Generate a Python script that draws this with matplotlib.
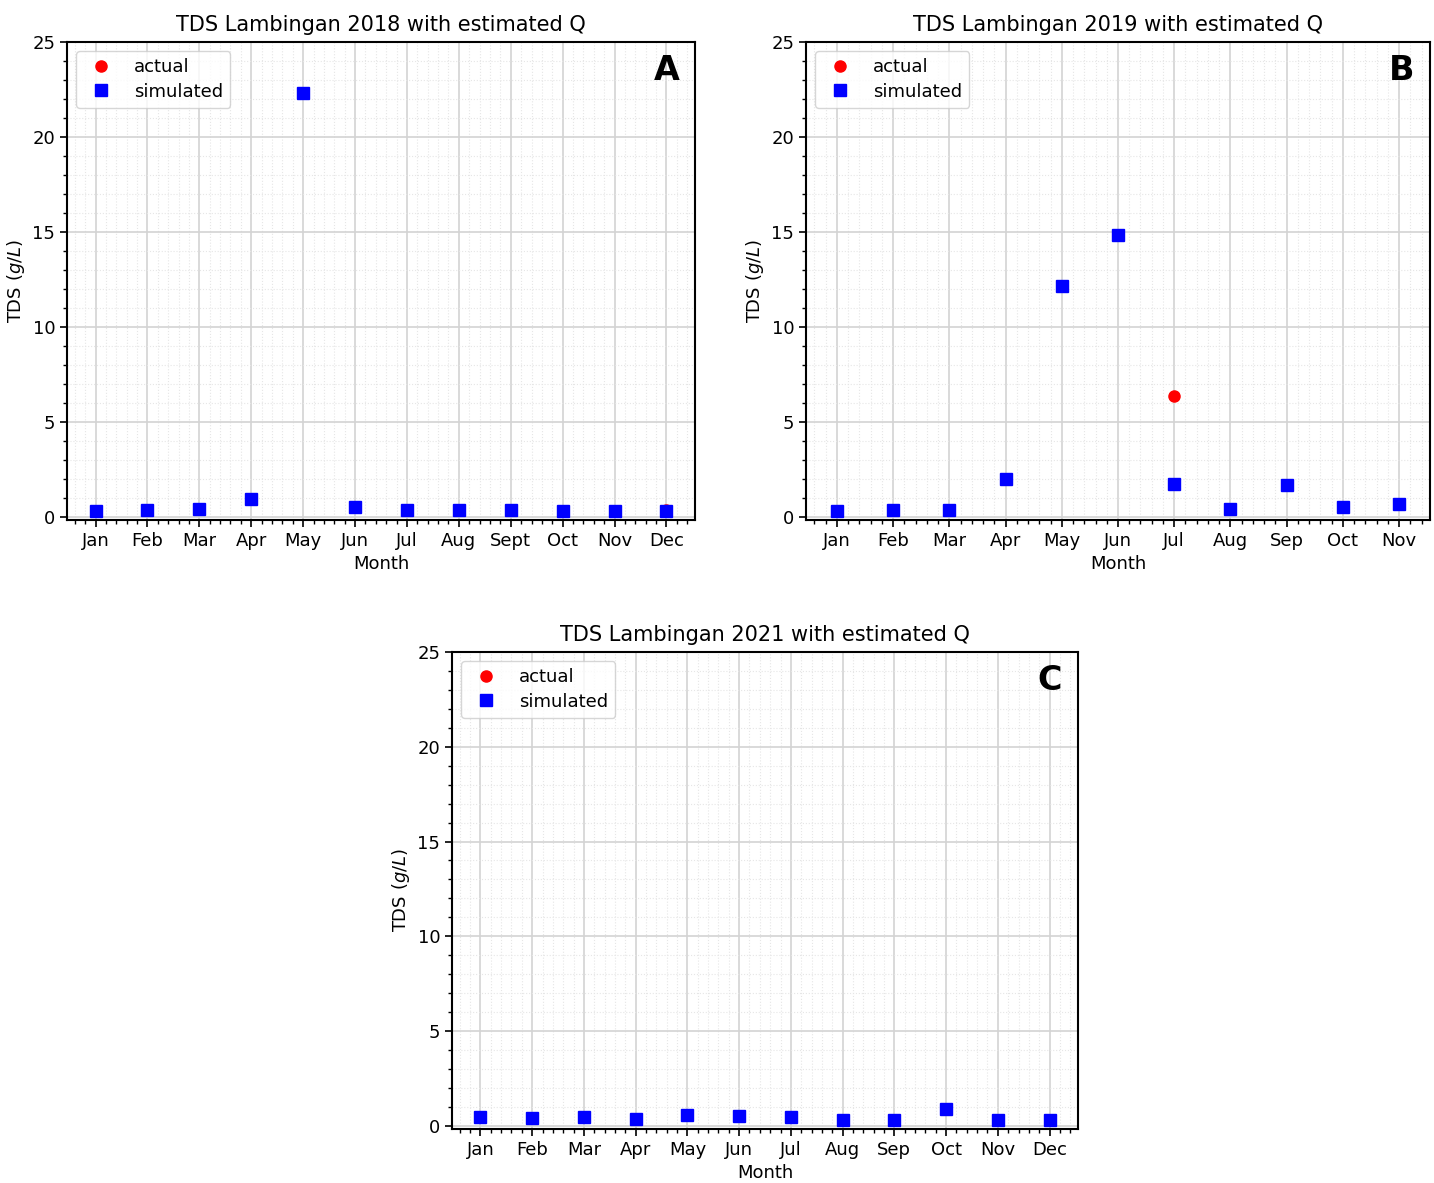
import matplotlib
matplotlib.use("Agg")
import matplotlib.pyplot as plt
from matplotlib.ticker import MultipleLocator

# Panel A: 2018
months_a = ["Jan", "Feb", "Mar", "Apr", "May", "Jun", "Jul", "Aug", "Sept", "Oct", "Nov", "Dec"]
sim_a = [0.30, 0.37, 0.42, 0.93, 22.3, 0.53, 0.38, 0.38, 0.37, 0.33, 0.33, 0.30]
act_a_month = ["Dec"]
act_a = [0.38]

# Panel B: 2019
months_b = ["Jan", "Feb", "Mar", "Apr", "May", "Jun", "Jul", "Aug", "Sep", "Oct", "Nov"]
sim_b = [0.32, 0.37, 0.35, 2.00, 12.13, 14.82, 1.74, 0.42, 1.67, 0.53, 0.65]
act_b_month = ["Jul"]
act_b = [6.34]

# Panel C: 2021
months_c = ["Jan", "Feb", "Mar", "Apr", "May", "Jun", "Jul", "Aug", "Sep", "Oct", "Nov", "Dec"]
sim_c = [0.44, 0.40, 0.47, 0.37, 0.56, 0.53, 0.47, 0.33, 0.32, 0.86, 0.33, 0.32]
act_c_month = []
act_c = []

titles = ["TDS Lambingan 2018 with estimated Q",
          "TDS Lambingan 2019 with estimated Q",
          "TDS Lambingan 2021 with estimated Q"]
letters = ["A", "B", "C"]

fig = plt.figure(figsize=(14.34, 11.83), dpi=100)
rects = [
    [67/1434, 663/1183, 628/1434, 478/1183],
    [806/1434, 663/1183, 624/1434, 478/1183],
    [452/1434, 54/1183, 626/1434, 477/1183],
]

datasets = [
    (months_a, sim_a, act_a_month, act_a),
    (months_b, sim_b, act_b_month, act_b),
    (months_c, sim_c, act_c_month, act_c),
]

for rect, (months, sim, am, av), title, letter in zip(rects, datasets, titles, letters):
    ax = fig.add_axes(rect)
    x = list(range(len(months)))
    ax_x_act = [months.index(m) for m in am]
    ax.plot(ax_x_act, av, linestyle="none", marker="o", color="red",
            markersize=8, label="actual", zorder=3)
    ax.plot(x, sim, linestyle="none", marker="s", color="blue",
            markersize=9, label="simulated", zorder=4)
    ax.set_xticks(x)
    ax.set_xticklabels(months)
    ax.set_xlim(-0.55, len(months) - 1 + 0.55)
    ax.set_ylim(-0.17, 25)
    ax.yaxis.set_major_locator(MultipleLocator(5))
    ax.yaxis.set_minor_locator(MultipleLocator(1))
    ax.xaxis.set_minor_locator(MultipleLocator(0.2))
    ax.grid(which="major", color="#d3d3d3", linewidth=1.2)
    ax.grid(which="minor", color="#e6e6e6", linestyle=":", linewidth=0.8)
    ax.set_axisbelow(True)
    ax.tick_params(axis="both", which="major", labelsize=13, length=5, width=1.2)
    ax.tick_params(axis="both", which="minor", length=3, width=1)
    for s in ax.spines.values():
        s.set_linewidth(1.5)
    ax.set_title(title, fontsize=15, pad=8)
    ax.set_xlabel("Month", fontsize=13, labelpad=4)
    ax.set_ylabel("TDS ($g/L$)", fontsize=13)
    ax.legend(loc="upper left", fontsize=13, handletextpad=0.8, borderpad=0.4,
              labelspacing=0.35)
    ax.text(0.975, 0.975, letter, transform=ax.transAxes, ha="right", va="top",
            fontsize=24, fontweight="bold")

fig.savefig("out.png", dpi=100)
